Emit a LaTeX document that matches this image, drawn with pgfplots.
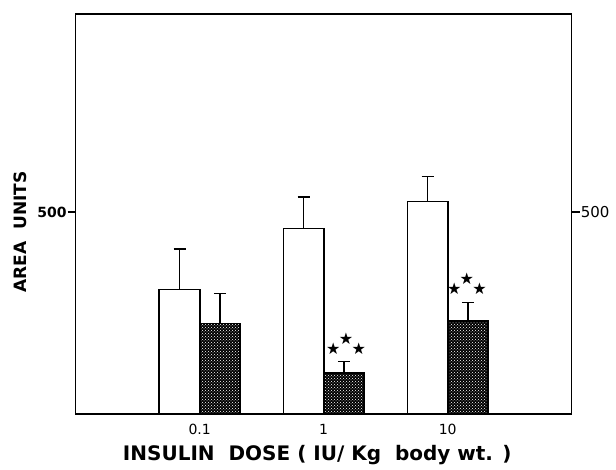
\documentclass[border=0pt]{standalone}
\usepackage{fontspec}
\setmainfont{DejaVu Sans}
\usepackage{pgfplots}
\usepackage{pgfplotstable}
\pgfplotsset{compat=1.18}
\usetikzlibrary{patterns}

\pgfplotstableread{
x white werr dark derr
1 308 100 224 75
2 459 78 101 29
3 526 62 231 45
}\datatable

\newcommand{\stars}{★\kern-0.1em\raisebox{0.62em}{★}\kern-0.1em★}

\begin{document}
\begin{tikzpicture}
\begin{axis}[
  scale only axis, width=496pt, height=400pt,
  xmin=0, xmax=4, ymin=0, ymax=990,
  clip=false,
  axis line style={line width=1.5pt},
  xtick={1,2,3}, xticklabels={0.1,1,10},
  x tick style={draw=none},
  ytick={500}, yticklabels={\textbf{500}},
  ytick pos=both, tick align=outside,
  y tick style={line width=1.2pt, black}, major tick length=8pt,
  /pgf/number format/assume math mode=true,
  xticklabel style={font=\fontsize{14}{16}\selectfont, yshift=1pt},
  yticklabel style={font=\fontsize{14}{16}\selectfont, inner sep=1pt},
  xlabel={INSULIN\ \ DOSE ( IU/ Kg\ \ body wt. )},
  xlabel style={font=\fontsize{20}{24}\selectfont\bfseries, at={(rel axis cs:0.487,0)}, anchor=base, yshift=-47pt},
  ybar, bar width=0.325,
]
\addplot[draw=black, fill=white, line width=1.8pt, bar shift=-0.1625,
  error bars/.cd, y dir=plus, y explicit,
  error bar style={line width=1.3pt},
  error mark options={rotate=90, mark size=6pt, line width=1.3pt}]
  table[x=x, y=white, y error=werr] {\datatable};
\addplot[draw=black, fill=black, line width=1.8pt, bar shift=0.1625,
  postaction={pattern=crosshatch dots, pattern color=white},
  error bars/.cd, y dir=plus, y explicit,
  error bar style={line width=1.3pt},
  error mark options={rotate=90, mark size=6pt, line width=1.3pt}]
  table[x=x, y=dark, y error=derr] {\datatable};

\node[font=\fontsize{16}{16}\selectfont, inner sep=0pt, anchor=south] at (axis cs:2.18,146) {\stars};
\node[font=\fontsize{16}{16}\selectfont, inner sep=0pt, anchor=south] at (axis cs:3.155,295) {\stars};

\node[anchor=west, font=\fontsize{15}{17}\selectfont, inner sep=1pt] at ([xshift=8pt]axis cs:4,500) {500};
\node[rotate=90, font=\fontsize{17}{20}\selectfont\bfseries] at ([xshift=-55.7pt]rel axis cs:0,0.455) {AREA\ \ UNITS};
\coordinate (ll) at (rel axis cs:0,0);
\end{axis}
\useasboundingbox (ll) ++(-75.7pt,-56pt) rectangle ++(616pt,470pt);
\end{tikzpicture}
\end{document}
